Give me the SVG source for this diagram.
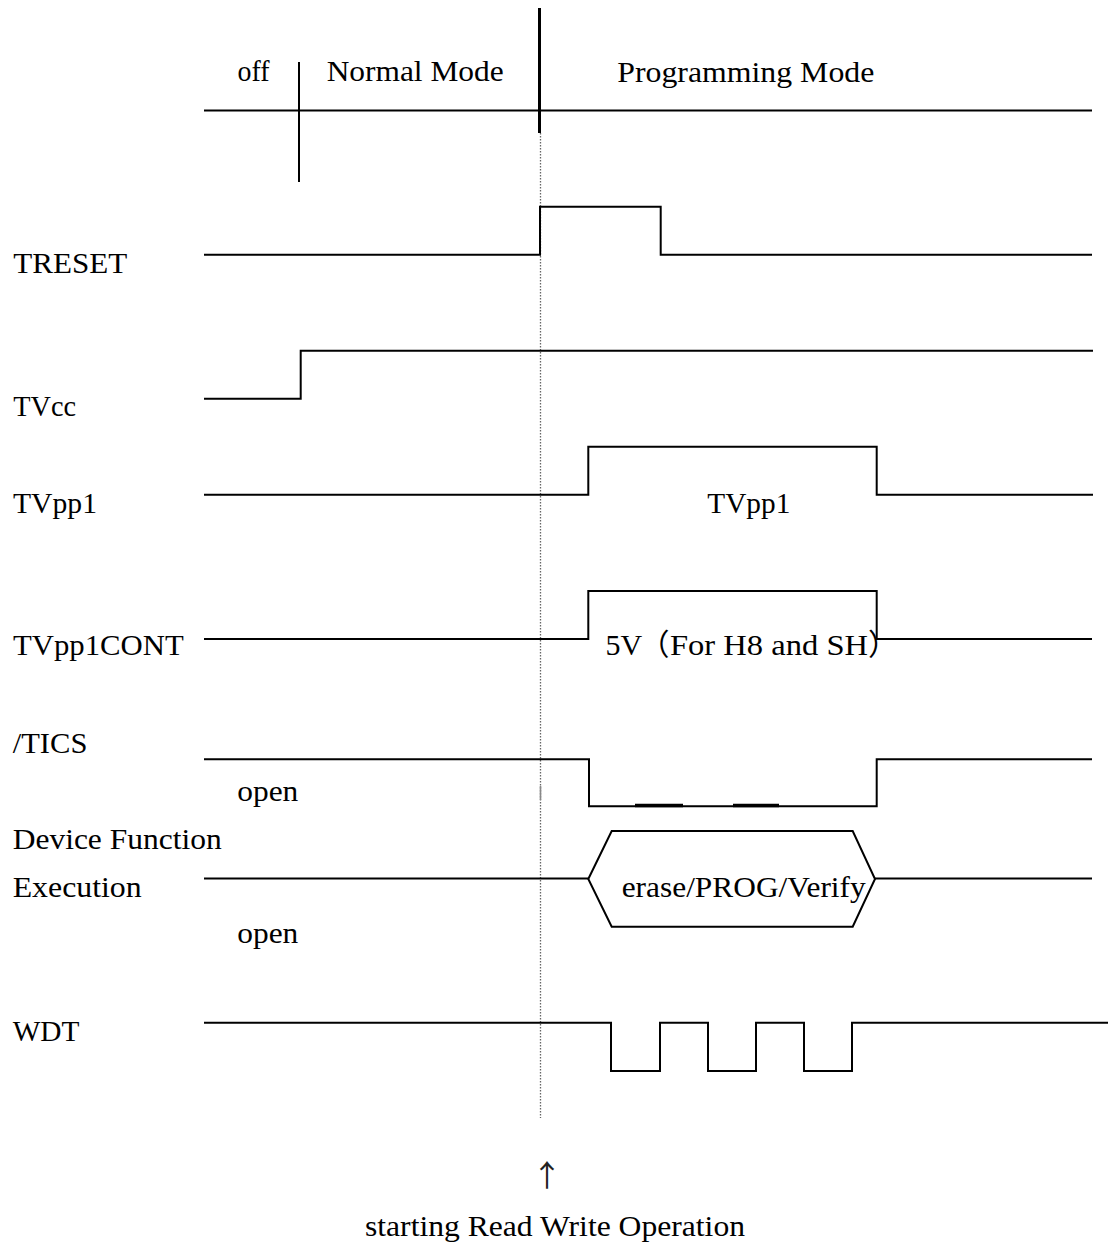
<svg xmlns="http://www.w3.org/2000/svg" width="1110" height="1242" viewBox="0 0 1110 1242">
<style>
.t{font-family:"Liberation Serif","Times New Roman",serif;font-size:30px;fill:#000}
.cjk{font-family:"Liberation Serif","Noto Sans CJK JP",serif;font-size:30px;fill:#000}
.arr{font-family:"Noto Sans CJK JP","DejaVu Sans",sans-serif;font-size:30px;fill:#222}
.w{fill:none;stroke:#000;stroke-width:2;stroke-linejoin:miter}
.dot{fill:none;stroke:#666;stroke-width:1.3;stroke-dasharray:1.5 1.5}
</style>
<rect width="1110" height="1242" fill="#fff"/>
<g id="header">
  <line class="w" x1="204" y1="110.5" x2="1092" y2="110.5"/>
  <line class="w" x1="299" y1="62" x2="299" y2="182"/>
  <line class="w" x1="539.5" y1="8" x2="539.5" y2="133" style="stroke-width:3"/>
  <text class="t" x="237.5" y="81" textLength="32" lengthAdjust="spacingAndGlyphs">off</text>
  <text class="t" x="326.7" y="81" textLength="177" lengthAdjust="spacingAndGlyphs">Normal Mode</text>
  <text class="t" x="617.3" y="81.5" textLength="257" lengthAdjust="spacingAndGlyphs">Programming Mode</text>
</g>
<g id="marker-line">
  <line class="dot" x1="540.5" y1="133" x2="540.5" y2="1118"/>
  <line x1="540.5" y1="786" x2="540.5" y2="800" stroke="#888" stroke-width="1.6"/>
</g>
<g id="sig-treset">
  <text class="t" x="13.3" y="273.3" textLength="114" lengthAdjust="spacingAndGlyphs">TRESET</text>
  <polyline class="w" points="204,254.7 540,254.7 540,206.7 660.7,206.7 660.7,254.7 1092,254.7"/>
</g>
<g id="sig-tvcc">
  <text class="t" x="13.3" y="416" textLength="62.7" lengthAdjust="spacingAndGlyphs">TVcc</text>
  <polyline class="w" points="204,398.7 300.7,398.7 300.7,350.7 1093,350.7"/>
</g>
<g id="sig-tvpp1">
  <text class="t" x="13" y="512.7" textLength="84" lengthAdjust="spacingAndGlyphs">TVpp1</text>
  <polyline class="w" points="204,494.7 588.3,494.7 588.3,446.7 876.7,446.7 876.7,494.7 1093,494.7"/>
  <text class="t" x="707.3" y="512.7" textLength="83" lengthAdjust="spacingAndGlyphs">TVpp1</text>
</g>
<g id="sig-tvpp1cont">
  <text class="t" x="13" y="655" textLength="170.7" lengthAdjust="spacingAndGlyphs">TVpp1CONT</text>
  <polyline class="w" points="204,639 588.3,639 588.3,591 876.7,591 876.7,639 1092,639"/>
  <text class="cjk" y="655"><tspan x="605.5">5V</tspan><tspan x="639.5">（</tspan><tspan x="670" textLength="198" lengthAdjust="spacingAndGlyphs">For H8 and SH</tspan><tspan x="868">）</tspan></text>
</g>
<g id="sig-tics">
  <text class="t" x="12.7" y="752.7" textLength="74.7" lengthAdjust="spacingAndGlyphs">/TICS</text>
  <polyline class="w" points="204,759.3 589,759.3 589,806.3 876.7,806.3 876.7,759.3 1092,759.3"/>
  <line x1="635" y1="805.5" x2="683" y2="805.5" stroke="#000" stroke-width="3.5"/>
  <line x1="733" y1="805.5" x2="779" y2="805.5" stroke="#000" stroke-width="3.5"/>
  <text class="t" x="237.3" y="801" textLength="61" lengthAdjust="spacingAndGlyphs">open</text>
</g>
<g id="sig-exec">
  <text class="t" x="12.7" y="849" textLength="209" lengthAdjust="spacingAndGlyphs">Device Function</text>
  <text class="t" x="12.7" y="896.7" textLength="129" lengthAdjust="spacingAndGlyphs">Execution</text>
  <line class="w" x1="204" y1="878.5" x2="588.3" y2="878.5"/>
  <polygon class="w" points="588.3,879 611.7,831 852.7,831 875,879 852.7,926.7 611.7,926.7"/>
  <line class="w" x1="875" y1="878.5" x2="1092" y2="878.5"/>
  <text class="t" x="621.7" y="897.3" textLength="244" lengthAdjust="spacingAndGlyphs">erase/PROG/Verify</text>
  <text class="t" x="237.3" y="943" textLength="61" lengthAdjust="spacingAndGlyphs">open</text>
</g>
<g id="sig-wdt">
  <text class="t" x="12.7" y="1040.7" textLength="66.7" lengthAdjust="spacingAndGlyphs">WDT</text>
  <polyline class="w" points="204,1022.7 611,1022.7 611,1071 660,1071 660,1022.7 708,1022.7 708,1071 756,1071 756,1022.7 804,1022.7 804,1071 852,1071 852,1022.7 1108,1022.7"/>
</g>
<g id="footer">
  <text class="arr" x="547" y="1186" text-anchor="middle">↑</text>
  <text class="t" x="365" y="1236" textLength="380" lengthAdjust="spacingAndGlyphs">starting Read Write Operation</text>
</g>
</svg>
